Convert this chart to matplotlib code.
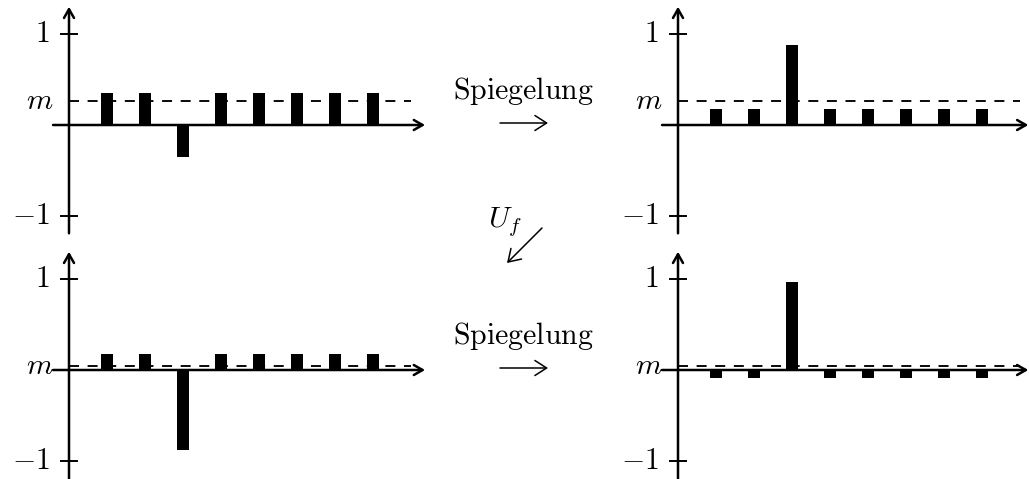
import matplotlib
matplotlib.use("Agg")
import matplotlib.pyplot as plt
from matplotlib.patches import FancyArrowPatch

plt.rcParams['mathtext.fontset'] = 'cm'
plt.rcParams['font.family'] = ['DejaVu Serif']
plt.rcParams['lines.scale_dashes'] = False

# ---- data (amplitudes) ----
states = [1, 2, 3, 4, 5, 6, 7, 8]
amp_top_left = [0.354, 0.354, -0.354, 0.354, 0.354, 0.354, 0.354, 0.354]
amp_top_right = [0.177, 0.177, 0.884, 0.177, 0.177, 0.177, 0.177, 0.177]
amp_bottom_left = [0.177, 0.177, -0.884, 0.177, 0.177, 0.177, 0.177, 0.177]
amp_bottom_right = [-0.088, -0.088, 0.972, -0.088, -0.088, -0.088, -0.088, -0.088]
mean_top = 0.265
mean_bottom = 0.044
tick_values = [1, -1]
tick_labels = [r'$1$', r'$-1$']
step_label = r'$\mathrm{Spiegelung}$'
oracle_label = r'$U_f$'

W, H = 1029, 479
fig = plt.figure(figsize=(W / 100, H / 100), dpi=100)

UX, UY = 38.0, 91.0
XLIM = (-1.9, 9.5)
YLIM = (-1.25, 1.36)
FS = 21.5


def panel(ox, oy):
    left = ox + XLIM[0] * UX
    width = (XLIM[1] - XLIM[0]) * UX
    top = oy - YLIM[1] * UY
    height = (YLIM[1] - YLIM[0]) * UY
    ax = fig.add_axes([left / W, 1 - (top + height) / H, width / W, height / H])
    ax.set_xlim(*XLIM)
    ax.set_ylim(*YLIM)
    ax.axis('off')
    return ax


def draw(ax, amps, mean, x_end, y_bottom):
    ax.bar(states, amps, width=0.29, color='black', zorder=3, clip_on=False)
    ax.plot([0, 9.0], [mean, mean], color='black', lw=1.35,
            ls=(0, (7.2, 6.2)), zorder=4, clip_on=False)
    arr_style = '->,head_length=0.7,head_width=0.4'
    ax.add_patch(FancyArrowPatch((-0.42, 0), (x_end, 0), arrowstyle=arr_style,
                                 mutation_scale=9, lw=1.8, color='black',
                                 shrinkA=0, shrinkB=0, zorder=5, clip_on=False))
    ax.add_patch(FancyArrowPatch((0, y_bottom), (0, 1.30), arrowstyle=arr_style,
                                 mutation_scale=9, lw=1.8, color='black',
                                 shrinkA=0, shrinkB=0, zorder=5, clip_on=False))
    for v, lab in zip(tick_values, tick_labels):
        ax.plot([-0.21, 0.21], [v, v], color='black', lw=1.4, clip_on=False)
        ax.text(-0.5, v, lab, ha='right', va='center', fontsize=FS)
    ax.text(-0.4, mean, r'$m$', ha='right', va='center', fontsize=FS)


ax_tl = panel(69, 125)
draw(ax_tl, amp_top_left, mean_top, 9.37, -1.19)
ax_tr = panel(678, 125)
draw(ax_tr, amp_top_right, mean_top, 9.22, -1.19)
ax_bl = panel(69, 370)
draw(ax_bl, amp_bottom_left, mean_bottom, 9.37, -1.22)
ax_br = panel(678, 370)
draw(ax_br, amp_bottom_right, mean_bottom, 9.22, -1.22)


def fx(px):
    return px / W


def fy(py):
    return 1 - py / H


for base, ay in [(99, 123), (344, 368)]:
    fig.text(fx(523), fy(base), step_label, ha='center', va='baseline', fontsize=FS)
    fig.add_artist(FancyArrowPatch((fx(500), fy(ay)), (fx(548), fy(ay)),
                                   transform=fig.transFigure,
                                   arrowstyle='->,head_length=0.7,head_width=0.45',
                                   mutation_scale=12, lw=1.1, color='black',
                                   shrinkA=0, shrinkB=0))

fig.text(fx(505), fy(222), oracle_label, ha='center', va='center', fontsize=FS)
fig.add_artist(FancyArrowPatch((fx(542), fy(228)), (fx(507), fy(263)),
                               transform=fig.transFigure,
                               arrowstyle='->,head_length=0.7,head_width=0.45',
                               mutation_scale=12, lw=1.1, color='black',
                               shrinkA=0, shrinkB=0))

fig.savefig('out.png', dpi=100)
